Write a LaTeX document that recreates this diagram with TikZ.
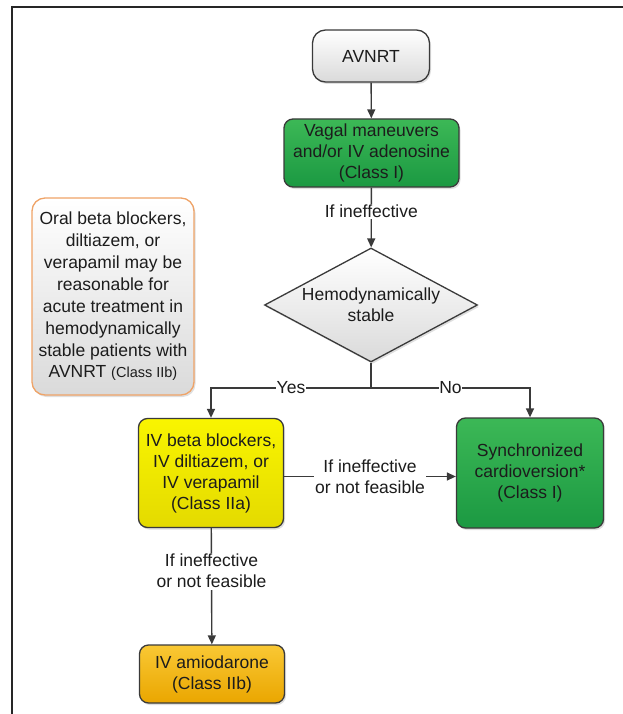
\documentclass[tikz,border=0pt]{standalone}
\usepackage{fontspec}
\setmainfont{Liberation Sans}
\usetikzlibrary{arrows.meta,shapes.geometric,shadows}
\definecolor{bord}{HTML}{3A3A3A}
\definecolor{txt}{HTML}{1C1C1C}
\definecolor{greenT}{HTML}{3CB856}
\definecolor{greenB}{HTML}{1B9942}
\definecolor{yellowT}{HTML}{F9F500}
\definecolor{yellowB}{HTML}{E4DA00}
\definecolor{orangeT}{HTML}{F9C834}
\definecolor{orangeB}{HTML}{EAA600}
\definecolor{grayB}{HTML}{DADADA}
\definecolor{noteB}{HTML}{EFA367}
\begin{document}
\begin{tikzpicture}[x=1pt,y=-1pt,
  txtfont/.style={font=\fontsize{17.5}{21}\selectfont},
  box/.style={draw=bord, line width=1.3pt, rounded corners=9pt, align=center,
    inner sep=0pt, text=txt, txtfont,
    drop shadow={opacity=0.25, shadow xshift=1.5pt, shadow yshift=-2pt}},
  greenbox/.style={box, top color=greenT, bottom color=greenB},
  yellowbox/.style={box, top color=yellowT, bottom color=yellowB},
  orangebox/.style={box, top color=orangeT, bottom color=orangeB},
  graybox/.style={box, top color=white, bottom color=grayB},
  arr/.style={-{Triangle[length=9pt,width=8pt]}, draw=bord, line width=1.4pt},
  conn/.style={draw=bord, line width=1.4pt},
  lbl/.style={fill=white, inner sep=1.5pt, text=txt, txtfont, align=center}]
\useasboundingbox (0,0) rectangle (623,714);
% frame
\draw[line width=2pt, black!85] (11,7) -- (623,7);
\draw[line width=2pt, black!85] (12,6) -- (12,714);

\node[graybox, rounded corners=13pt, minimum width=117pt, minimum height=52pt] (avnrt) at (371,56) {AVNRT};
\node[greenbox, minimum width=175pt, minimum height=68pt] (vagal) at (371.5,153) {Vagal maneuvers\\and/or IV adenosine\\(Class I)};
\node[diamond, draw=bord, line width=1.3pt, top color=white, bottom color=grayB, aspect=1.87,
  inner sep=0pt, minimum width=213pt, minimum height=114pt, align=center, text=txt, txtfont,
  drop shadow={opacity=0.25, shadow xshift=1.5pt, shadow yshift=-2pt}] (stable) at (371,305) {Hemodynamically\\stable};
\node[box, draw=noteB, top color=white, bottom color=grayB, rounded corners=13pt,
  minimum width=162pt, minimum height=197pt, font=\fontsize{17.5}{21.9}\selectfont] (note) at (113,296.5)
  {Oral beta blockers,\\diltiazem, or\\verapamil may be\\reasonable for\\acute treatment in\\hemodynamically\\stable patients with\\AVNRT {\fontsize{14.5}{21.9}\selectfont(Class IIb)}};
\node[yellowbox, minimum width=145pt, minimum height=109pt] (ivbb) at (211,473) {IV beta blockers,\\IV diltiazem, or\\IV verapamil\\(Class IIa)};
\node[greenbox, minimum width=147pt, minimum height=110pt] (cardio) at (530,473) {Synchronized\\cardioversion*\\(Class I)};
\node[orangebox, minimum width=145pt, minimum height=58pt] (amio) at (212,674) {IV amiodarone\\(Class IIb)};

\coordinate (split) at (371,388);

\draw[arr] (avnrt) -- (vagal);
\draw[arr] (vagal) -- node[lbl, pos=0.4] {If ineffective} (stable);
\draw[conn] (stable.south) -- (split);
\draw[arr] (split) -| node[lbl, pos=0.25, inner xsep=0.5pt] {Yes} (ivbb.north);
\draw[arr] (split) -| node[lbl, pos=0.25, inner xsep=0.5pt] {No} (cardio.north);
\draw[arr] ([yshift=-3.5pt]ivbb.east) -- node[lbl] {If ineffective\\or not feasible} ([yshift=-3.5pt]cardio.west);
\draw[arr] (ivbb) -- node[lbl, pos=0.37] {If ineffective\\or not feasible} (amio);
\end{tikzpicture}
\end{document}
